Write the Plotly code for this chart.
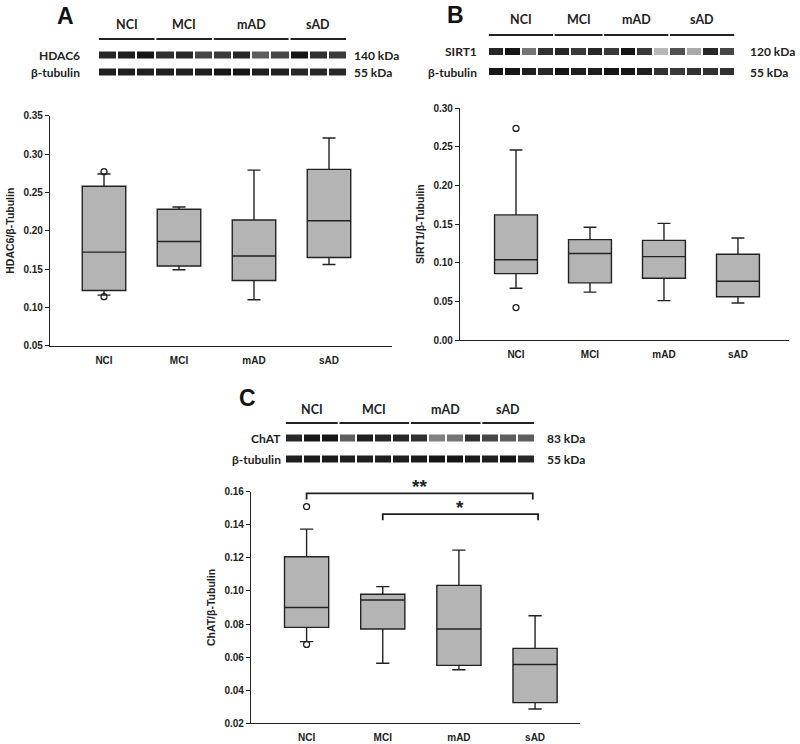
import plotly.graph_objects as go

W, H = 800, 744
GROUPS = ["NCI", "MCI", "mAD", "sAD"]
POS = [0, 1, 2, 3]

# ---------------------------------------------------------------------------
# Box plot summaries
# ---------------------------------------------------------------------------
# A: HDAC6 / beta-tubulin
hdac6_q1 = [0.122, 0.154, 0.135, 0.165]
hdac6_med = [0.172, 0.186, 0.167, 0.213]
hdac6_q3 = [0.258, 0.228, 0.214, 0.280]
hdac6_lo = [0.116, 0.149, 0.110, 0.156]
hdac6_hi = [0.274, 0.231, 0.279, 0.321]
hdac6_out_x = [0, 0]
hdac6_out_y = [0.277, 0.114]

# B: SIRT1 / beta-tubulin
sirt1_q1 = [0.086, 0.074, 0.080, 0.056]
sirt1_med = [0.104, 0.112, 0.108, 0.076]
sirt1_q3 = [0.162, 0.130, 0.129, 0.111]
sirt1_lo = [0.067, 0.062, 0.051, 0.048]
sirt1_hi = [0.246, 0.146, 0.151, 0.132]
sirt1_out_x = [0, 0]
sirt1_out_y = [0.274, 0.042]

# C: ChAT / beta-tubulin
chat_q1 = [0.078, 0.077, 0.055, 0.0325]
chat_med = [0.090, 0.0945, 0.077, 0.0555]
chat_q3 = [0.1207, 0.098, 0.1034, 0.0653]
chat_lo = [0.0694, 0.0563, 0.0524, 0.0286]
chat_hi = [0.1374, 0.1026, 0.1247, 0.085]
chat_out_x = [0, 0]
chat_out_y = [0.151, 0.0677]

# significance brackets in C
sig_left = [0.0, 1.0]
sig_right = [2.97, 3.04]
sig_y = [0.1590, 0.1465]
sig_text = ["**", "*"]

# ---------------------------------------------------------------------------
# Western blot band intensities (0 = blank, 1 = black), lanes per group
# ---------------------------------------------------------------------------
hdac6_lanes = [3, 3, 4, 3]
hdac6_band = [0.85, 0.9, 0.95, 0.8, 0.85, 0.7, 0.75, 0.85, 0.6, 0.7, 0.95, 0.8, 0.75]
hdac6_tub = [0.9, 0.9, 0.9, 0.9, 0.9, 0.9, 0.95, 0.95, 0.9, 0.9, 0.85, 0.85, 0.85]

sirt1_lanes = [4, 3, 4, 4]
sirt1_band = [0.85, 0.95, 0.5, 0.8, 0.85, 0.75, 0.85, 0.75, 0.95, 0.75, 0.25,
              0.65, 0.3, 0.85, 0.7]
sirt1_tub = [0.95, 0.95, 0.9, 0.85, 0.95, 0.9, 0.9, 0.95, 0.95, 0.9, 0.8,
             0.75, 0.8, 0.8, 0.8]

chat_lanes = [3, 4, 4, 3]
chat_band = [0.85, 0.95, 0.95, 0.6, 0.9, 0.85, 0.85, 0.8, 0.45, 0.5, 0.8, 0.7, 0.6, 0.6]
chat_tub = [0.9, 0.92, 0.92, 0.9, 0.9, 0.9, 0.9, 0.92, 0.95, 0.95, 0.92, 0.9, 0.95, 0.85]

PLOT_FONT = "Liberation Sans, Arial, sans-serif"
BLOT_FONT = "Lato, Noto Sans, sans-serif"
INK = "#222222"


def px(x):
    return x / W


def py(y):
    return 1 - y / H


fig = go.Figure()

# ---------------------------------------------------------------------------
# Box plot panels
# ---------------------------------------------------------------------------
panels = [
    # n, data, ytitle, px box (x0, x1, ytop, ybot), yrange, dtick, xrange
    (1, (hdac6_q1, hdac6_med, hdac6_q3, hdac6_lo, hdac6_hi, hdac6_out_x, hdac6_out_y),
     "HDAC6/β-Tubulin", (50, 392, 115.7, 345.7), [0.05, 0.35], 0.05, [-0.72, 3.84]),
    (2, (sirt1_q1, sirt1_med, sirt1_q3, sirt1_lo, sirt1_hi, sirt1_out_x, sirt1_out_y),
     "SIRT1/β-Tubulin", (460, 789, 108.3, 340), [0.0, 0.30], 0.05, [-0.757, 3.69]),
    (3, (chat_q1, chat_med, chat_q3, chat_lo, chat_hi, chat_out_x, chat_out_y),
     "ChAT/β-Tubulin", (251, 580, 491.7, 723.3), [0.02, 0.16], 0.02, [-0.73, 3.59]),
]

for n, (q1, med, q3, lo, hi, ox, oy), ytitle, (x0, x1, yt, yb), yr, dt, xr in panels:
    sfx = "" if n == 1 else str(n)
    fig.add_trace(go.Box(
        x=POS, q1=q1, median=med, q3=q3, lowerfence=lo, upperfence=hi,
        width=0.58, whiskerwidth=0.3, boxpoints=False,
        fillcolor="#b4b4b4", line=dict(color=INK, width=1.4),
        xaxis="x" + sfx, yaxis="y" + sfx, hoverinfo="skip",
    ))
    fig.add_trace(go.Scatter(
        x=ox, y=oy, mode="markers", cliponaxis=False,
        marker=dict(symbol="circle-open", size=6, color=INK, line=dict(width=1.3)),
        xaxis="x" + sfx, yaxis="y" + sfx, hoverinfo="skip",
    ))
    fig.layout["xaxis" + sfx] = dict(
        domain=[px(x0), px(x1)], anchor="y" + sfx, range=xr,
        tickvals=POS, ticktext=GROUPS, showgrid=False, zeroline=False,
        showline=True, linecolor=INK, linewidth=1.3,
        ticks="outside", ticklen=5, tickcolor="rgba(0,0,0,0)",
        tickfont=dict(family=PLOT_FONT, size=10, color=INK, weight=700),
    )
    fig.layout["yaxis" + sfx] = dict(
        domain=[py(yb), py(yt)], anchor="x" + sfx, range=yr, dtick=dt,
        tickformat=".2f", showgrid=False, zeroline=False,
        showline=True, linecolor=INK, linewidth=1.3,
        ticks="outside", ticklen=4, tickcolor=INK, tickwidth=1.2,
        tickfont=dict(family=PLOT_FONT, size=10, color=INK, weight=700),
        title=dict(text=ytitle, standoff=6,
                   font=dict(family=PLOT_FONT, size=10.5, color=INK, weight=700)),
        automargin=False,
    )

# significance brackets for C, drawn on a hidden twin of x3 with a taller y axis
c_dom = list(fig.layout.yaxis3.domain)
ext_top = py(470)
c_span = 0.16 - 0.02
ext_range = [0.02, 0.02 + c_span * (ext_top - c_dom[0]) / (c_dom[1] - c_dom[0])]
fig.layout.xaxis8 = dict(domain=list(fig.layout.xaxis3.domain), anchor="y8",
                         range=list(fig.layout.xaxis3.range), visible=False,
                         fixedrange=True)
fig.layout.yaxis8 = dict(domain=[c_dom[0], ext_top], anchor="x8", range=ext_range,
                         visible=False, fixedrange=True)
drop = 0.0037
bx, by = [], []
for l, r, y in zip(sig_left, sig_right, sig_y):
    bx += [l, l, r, r, None]
    by += [y - drop, y, y, y - drop, None]
fig.add_trace(go.Scatter(x=bx, y=by, mode="lines", line=dict(color=INK, width=1.8),
                         xaxis="x8", yaxis="y8", hoverinfo="skip"))
for l, r, y, t in zip(sig_left, sig_right, sig_y, sig_text):
    fig.add_annotation(x=(l + r) / 2, y=y, xref="x8", yref="y8", text=t,
                       showarrow=False, yanchor="bottom", yshift=-6,
                       font=dict(family=PLOT_FONT, size=19, color=INK, weight=700))

# ---------------------------------------------------------------------------
# Western blot strips
# ---------------------------------------------------------------------------
blots = [
    # axis n, target, kDa, lanes, band, tub, geometry px
    (5, "HDAC6", "140 kDa", hdac6_lanes, hdac6_band, hdac6_tub,
     dict(x0=98, x1=347, yt=55, yb=72, yl=39, yg=25, lab=82, kda=352)),
    (6, "SIRT1", "120 kDa", sirt1_lanes, sirt1_band, sirt1_tub,
     dict(x0=488, x1=735, yt=52, yb=72, yl=35, yg=20, lab=479, kda=748)),
    (7, "ChAT", "83 kDa", chat_lanes, chat_band, chat_tub,
     dict(x0=285, x1=535, yt=438, yb=459, yl=423, yg=409, lab=283, kda=545)),
]

for n, target, kda, lanes, band, tub, g in blots:
    nl = len(band)
    u = g["yb"] - g["yt"]
    top_px = g["yg"] - 10
    xa, ya = "x" + str(n), "y" + str(n)
    fig.layout["xaxis" + str(n)] = dict(
        domain=[px(g["x0"]), px(g["x1"])], anchor=ya, range=[-0.5, nl - 0.5],
        visible=False, fixedrange=True)
    fig.layout["yaxis" + str(n)] = dict(
        domain=[py(g["yb"] + u / 2), py(top_px)], anchor=xa,
        range=[-0.5, (g["yb"] - top_px) / u], visible=False, fixedrange=True)

    fig.add_trace(go.Heatmap(
        z=[tub, band], x=list(range(nl)), y=[0, 1], zmin=0, zmax=1,
        colorscale=[[0, "#ffffff"], [0.4, "#8c8c8c"], [0.75, "#3a3a3a"], [1, "#0d0d0d"]],
        showscale=False, xgap=2, ygap=max(u - 7, 1),
        xaxis=xa, yaxis=ya, hoverinfo="skip",
    ))

    # group lines + labels
    lx, ly = [], []
    y_line = (g["yb"] - g["yl"]) / u
    y_lab = (g["yb"] - g["yg"]) / u
    s = 0
    for name, k in zip(GROUPS, lanes):
        e = s + k - 1
        lx += [s - 0.45, e + 0.45, None]
        ly += [y_line, y_line, None]
        fig.add_annotation(x=(s + e) / 2, y=y_lab, xref=xa, yref=ya, text=name,
                           showarrow=False,
                           font=dict(family=BLOT_FONT, size=12.5, color=INK, weight=700))
        s = e + 1
    fig.add_trace(go.Scatter(x=lx, y=ly, mode="lines", line=dict(color=INK, width=2),
                             xaxis=xa, yaxis=ya, hoverinfo="skip"))

    # row labels sit outside the lane axis, so place them on the page
    for txt, yy in [(target, g["yt"]), ("β-tubulin", g["yb"])]:
        fig.add_annotation(x=px(g["lab"]), y=py(yy), xref="paper", yref="paper",
                           text=txt, showarrow=False, xanchor="right", yanchor="middle",
                           font=dict(family=BLOT_FONT, size=12, color=INK, weight=700))
    for txt, yy in [(kda, g["yt"]), ("55 kDa", g["yb"])]:
        fig.add_annotation(x=px(g["kda"]), y=py(yy), xref="paper", yref="paper",
                           text=txt, showarrow=False, xanchor="left", yanchor="middle",
                           font=dict(family=BLOT_FONT, size=12, color=INK, weight=700))

# panel letters
for letter, (lx_, ly_) in [("A", (65, 16)), ("B", (456, 15)), ("C", (247, 398))]:
    fig.add_annotation(x=px(lx_), y=py(ly_), xref="paper", yref="paper", text=letter,
                       showarrow=False, xanchor="center", yanchor="middle",
                       font=dict(family=PLOT_FONT, size=23, color="#111111", weight=700))

fig.update_layout(
    width=W, height=H, margin=dict(l=0, r=0, t=0, b=0),
    paper_bgcolor="white", plot_bgcolor="rgba(0,0,0,0)",
    showlegend=False, hovermode=False,
)

# drop the default page margin so the figure sits at the window's corner
fig.write_html("out.html", config={"displayModeBar": False},
               post_script="document.body.style.margin='0';"
                           "document.body.style.overflow='hidden';")
